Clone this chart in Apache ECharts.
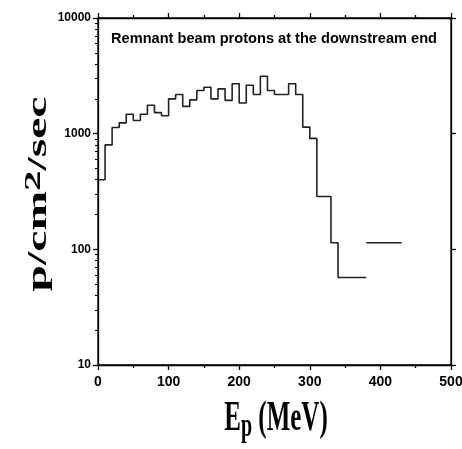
<!DOCTYPE html>
<html>
<head>
<meta charset="utf-8">
<script src="https://cdn.jsdelivr.net/npm/echarts@6/dist/echarts.min.js"></script>
<style>
  html, body { margin: 0; padding: 0; background: #fff; }
  #main { width: 462px; height: 449px; }
</style>
</head>
<body>
<div id="main"></div>
<script>
// bin lower edges (MeV), 10 MeV wide
const binStart = [0, 10, 20, 30, 40, 50, 60, 70, 80, 90,
  100, 110, 120, 130, 140, 150, 160, 170, 180, 190,
  200, 210, 220, 230, 240, 250, 260, 270, 280, 290,
  300, 310, 320, 330, 340, 350, 360, 370, 380, 390,
  400, 410, 420]
const binEnd = 430
// flux per bin, p/cm2/sec
const flux = [400, 800, 1130, 1240, 1470, 1300, 1470, 1760, 1520, 1430,
  2000, 2180, 1720, 1960, 2360, 2520, 2000, 2440, 1940, 2700,
  1840, 2620, 2180, 3140, 2360, 2180, 2180, 2700, 2180, 1140,
  910, 286, 286, 114, 57, 57, 57, 57, 114, 114,
  114, 114, 114]
// the curve is broken here (no riser drawn)
const gapAt = 380

const yMin = 10, yMax = 10000
const yMinorTicks = [20, 30, 40, 50, 60, 70, 80, 90,
  200, 300, 400, 500, 600, 700, 800, 900,
  2000, 3000, 4000, 5000, 6000, 7000, 8000, 9000]
const yMinorLog = yMinorTicks.map(v => Math.log10(v))

let data = []
binStart.forEach((x, i) => {
  if (x === gapAt) {
    data.push([x, flux[i - 1]])
    data.push([x, '-'])
  }
  data.push([x, flux[i]])
})
data.push([binEnd, flux[flux.length - 1]])

const black = '#000'
const serif = '"Liberation Serif", "Times New Roman", serif'
const sans = '"Liberation Sans", Arial, sans-serif'
const plotBox = { left: 98, right: 11, top: 18, bottom: 84, containLabel: false, outerBoundsMode: 'none' }

var myChart = echarts.init(document.getElementById('main'))
var option = {
  animation: false,
  grid: [
    Object.assign({ show: true, borderColor: black, borderWidth: 1.3, backgroundColor: 'transparent' }, plotBox),
    // same box again, only carries the small log ticks
    Object.assign({ show: false }, plotBox)
  ],
  xAxis: [
    {
      type: 'value', min: 0, max: 500, interval: 100, position: 'bottom',
      axisLine: { onZero: false, lineStyle: { color: black, width: 1.3 } },
      axisTick: { length: 5, lineStyle: { color: black, width: 1.3 } },
      minorTick: { show: true, splitNumber: 2, length: 3, lineStyle: { color: black, width: 1.3 } },
      axisLabel: { color: black, fontFamily: sans, fontWeight: 'bold', fontSize: 14, margin: 10 },
      splitLine: { show: false }
    },
    {
      type: 'value', min: 0, max: 500, interval: 100, position: 'top',
      axisLine: { onZero: false, lineStyle: { color: black, width: 1.3 } },
      axisTick: { length: 5, lineStyle: { color: black, width: 1.3 } },
      minorTick: { show: true, splitNumber: 2, length: 3, lineStyle: { color: black, width: 1.3 } },
      axisLabel: { show: false },
      splitLine: { show: false }
    },
    {
      gridIndex: 1, type: 'value', min: 0, max: 500, show: false
    }
  ],
  yAxis: [
    {
      type: 'log', logBase: 10, min: yMin, max: yMax, position: 'left',
      axisLine: { onZero: false, lineStyle: { color: black, width: 1.3 } },
      axisTick: { length: 5, lineStyle: { color: black, width: 1.3 } },
      axisLabel: {
        color: black, fontFamily: sans, fontWeight: 'bold', fontSize: 12, margin: 7,
        formatter: v => String(Math.round(v))
      },
      splitLine: { show: false }
    },
    {
      type: 'log', logBase: 10, min: yMin, max: yMax, position: 'right',
      axisLine: { onZero: false, lineStyle: { color: black, width: 1.3 } },
      axisTick: { length: 5, lineStyle: { color: black, width: 1.3 } },
      axisLabel: { show: false },
      splitLine: { show: false }
    },
    {
      // helper axis in log10 units, only for the small log ticks
      gridIndex: 1, type: 'value', min: Math.log10(yMin), max: Math.log10(yMax), position: 'left',
      axisLine: { show: true, onZero: false, lineStyle: { color: 'rgba(0,0,0,0)' } },
      axisTick: { show: true, length: 3, customValues: yMinorLog, lineStyle: { color: black, width: 1.1 } },
      axisLabel: { show: false },
      splitLine: { show: false }
    }
  ],
  graphic: [
    {
      type: 'text', x: 274, y: 39,
      style: {
        text: 'Remnant beam protons at the downstream end',
        font: 'bold 14.6px ' + sans, fill: black,
        align: 'center', verticalAlign: 'middle', textAlign: 'center', textVerticalAlign: 'middle'
      }
    },
    {
      // x axis title, stretched like the original
      type: 'text', x: 276, y: 419, scaleY: 1.7,
      style: {
        text: '{a|E}{b|p}{a| (MeV)}',
        fill: black,
        align: 'center', verticalAlign: 'middle', textAlign: 'center', textVerticalAlign: 'middle',
        rich: {
          a: { font: 'bold 25px ' + serif, fill: black },
          b: { font: 'bold 20px ' + serif, fill: black, padding: [10, 0, 0, 0] }
        }
      }
    },
    {
      // y axis title, rotated
      type: 'text', x: 39, y: 194, rotation: Math.PI / 2, scaleX: 1.7,
      style: {
        text: '{a|p/cm}{s|2}{a|/sec}',
        fill: black,
        align: 'center', verticalAlign: 'middle', textAlign: 'center', textVerticalAlign: 'middle',
        rich: {
          a: { font: 'bold 28px ' + serif, fill: black },
          s: { font: 'bold 24px ' + serif, fill: black, padding: [0, 0, 10, 0] }
        }
      }
    }
  ],
  series: [
    {
      type: 'line',
      step: 'end',
      data,
      xAxisIndex: 0,
      yAxisIndex: 0,
      showSymbol: false,
      connectNulls: false,
      lineStyle: { color: '#222', width: 1.6 }
    }
  ]
}
myChart.setOption(option)
</script>
</body>
</html>
